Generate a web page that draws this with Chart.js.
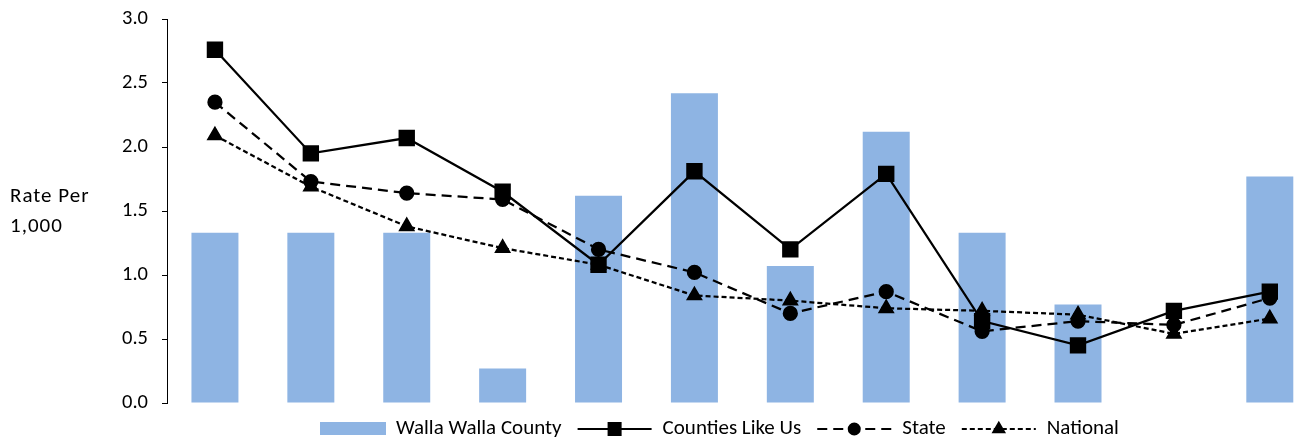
<!DOCTYPE html>
<html>
<head>
<meta charset="utf-8">
<script src="https://cdn.jsdelivr.net/npm/chart.js@4"></script>
<style>
  html, body { margin: 0; padding: 0; background: #fff; overflow: hidden; }
  #wrap { width: 1330px; height: 441px; }
</style>
</head>
<body>
<div id="wrap"><canvas id="grafico" width="1330" height="441"></canvas></div>
<script>
const categorias = ['1', '2', '3', '4', '5', '6', '7', '8', '9', '10', '11', '12'];
const wallaWalla = [1.33, 1.33, 1.33, 0.27, 1.62, 2.42, 1.07, 2.12, 1.33, 0.77, 0, 1.77];
const countiesLikeUs = [2.76, 1.95, 2.07, 1.65, 1.08, 1.81, 1.20, 1.79, 0.64, 0.45, 0.72, 0.87];
const state = [2.35, 1.73, 1.64, 1.59, 1.20, 1.02, 0.70, 0.87, 0.56, 0.64, 0.61, 0.82];
const national = [2.09, 1.69, 1.38, 1.21, 1.08, 0.84, 0.80, 0.74, 0.72, 0.69, 0.54, 0.66];
const yTicks = [0, 0.5, 1.0, 1.5, 2.0, 2.5, 3.0];

const fonte = "Carlito, 'Open Sans', sans-serif";
const azul = '#8EB4E3';

// legenda e título do eixo desenhados à mão
const extras = {
    id: 'extras',
    afterDraw(chart) {
        const ctx = chart.ctx;
        ctx.save();
        ctx.fillStyle = '#000';
        ctx.font = '21px ' + fonte;
        ctx.textBaseline = 'middle';
        ctx.textAlign = 'left';
        ctx.letterSpacing = '1px';
        ctx.fillText('Rate Per', 10, 197);
        ctx.fillText('1,000', 10, 227);
        ctx.letterSpacing = '0px';

        ctx.font = '21px ' + fonte;
        const ly = 429;
        let x = 320;
        chart.data.datasets.forEach((ds, i) => {
            if (ds.type === 'bar') {
                ctx.fillStyle = azul;
                ctx.fillRect(x, ly - 7, 66, 13);
                x += 76;
            } else {
                ctx.strokeStyle = '#000';
                ctx.lineWidth = 2;
                ctx.setLineDash(ds.borderDash || []);
                ctx.beginPath();
                ctx.moveTo(x, ly);
                ctx.lineTo(x + 74, ly);
                ctx.stroke();
                ctx.setLineDash([]);
                Chart.helpers.drawPoint(ctx, {
                    pointStyle: ds.pointStyle,
                    radius: ds.pointRadius * 0.85,
                    rotation: 0,
                    borderWidth: 1
                }, x + 37, ly);
                x += 85;
            }
            ctx.fillStyle = '#000';
            ctx.fillText(ds.label, x, ly);
            x += ctx.measureText(ds.label).width + 16;
        });
        ctx.restore();
    }
};

new Chart(document.getElementById('grafico'), {
    data: {
        labels: categorias,
        datasets: [
            {
                type: 'bar',
                label: 'Walla Walla County',
                data: wallaWalla,
                backgroundColor: azul,
                categoryPercentage: 1,
                barPercentage: 0.49,
                order: 4
            },
            {
                type: 'line',
                label: 'Counties Like Us',
                data: countiesLikeUs,
                borderColor: '#000',
                backgroundColor: '#000',
                borderWidth: 2.25,
                pointStyle: 'rect',
                pointRadius: 10,
                order: 1
            },
            {
                type: 'line',
                label: 'State',
                data: state,
                borderColor: '#000',
                backgroundColor: '#000',
                borderWidth: 2.25,
                borderDash: [10, 6],
                pointStyle: 'circle',
                pointRadius: 6.5,
                order: 2
            },
            {
                type: 'line',
                label: 'National',
                data: national,
                borderColor: '#000',
                backgroundColor: '#000',
                borderWidth: 2.25,
                borderDash: [5, 3],
                pointStyle: 'triangle',
                pointRadius: 7.5,
                order: 3
            }
        ]
    },
    options: {
        responsive: false,
        animation: false,
        layout: { padding: { top: 19, bottom: 38, left: 0, right: 11 } },
        plugins: {
            legend: { display: false },
            tooltip: { enabled: false }
        },
        scales: {
            x: {
                display: false,
                offset: true
            },
            y: {
                min: 0,
                max: 3,
                afterFit(scale) {
                    scale.width = 167;
                    scale.paddingTop = 0;
                    scale.paddingBottom = 0;
                },
                afterBuildTicks(scale) { scale.ticks = yTicks.map(v => ({ value: v })); },
                grid: {
                    drawOnChartArea: false,
                    drawTicks: true,
                    tickLength: 5,
                    color: '#000'
                },
                border: { display: true, color: '#000', width: 1 },
                ticks: {
                    color: '#000',
                    font: { size: 20.5, family: fonte },
                    padding: 14,
                    callback: v => v.toFixed(1)
                }
            }
        }
    },
    plugins: [extras]
});
</script>
</body>
</html>
